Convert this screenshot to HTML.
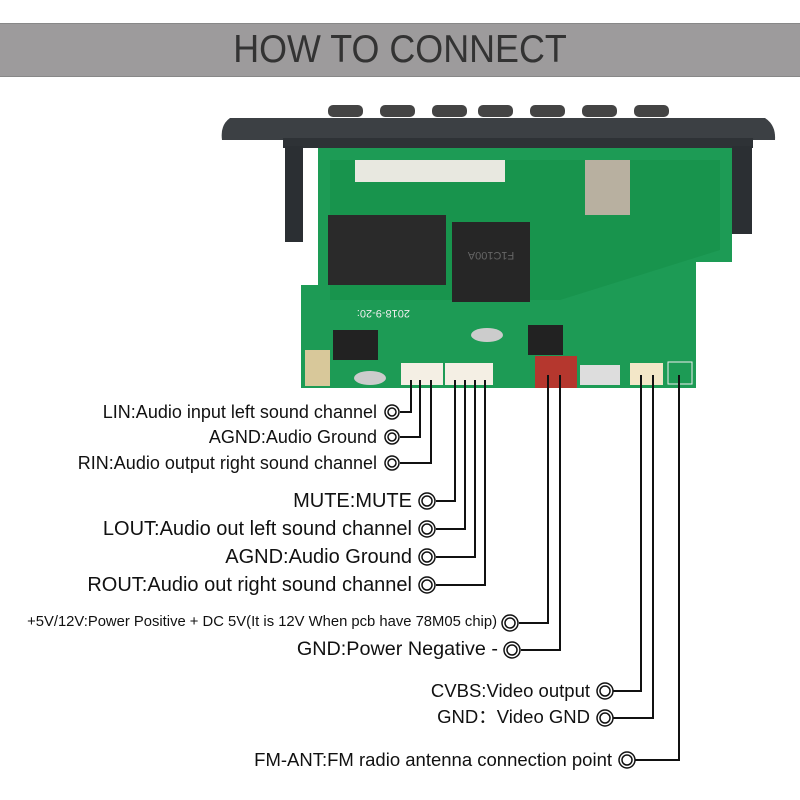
<!DOCTYPE html>
<html><head><style>
body{margin:0;width:800px;height:800px;background:#fff;overflow:hidden;position:relative;font-family:"Liberation Sans",sans-serif}
.bar{position:absolute;left:0;top:23px;width:800px;height:52px;background:#9d9b9c;border-top:1px solid #888;border-bottom:1px solid #888}
.bar div{position:absolute;left:0;width:800px;top:4px;text-align:center;font-size:39px;color:#333;transform:scaleX(0.92)}
.t{position:absolute;color:#111;white-space:nowrap;text-align:right;line-height:1}
</style></head><body>
<div class="bar"><div>HOW TO CONNECT</div></div>
<svg width="800" height="800" style="position:absolute;left:0;top:0">
<g fill="#444">
<rect x="328" y="105" width="35" height="12" rx="5"/><rect x="380" y="105" width="35" height="12" rx="5"/><rect x="432" y="105" width="35" height="12" rx="5"/><rect x="478" y="105" width="35" height="12" rx="5"/><rect x="530" y="105" width="35" height="12" rx="5"/><rect x="582" y="105" width="35" height="12" rx="5"/><rect x="634" y="105" width="35" height="12" rx="5"/>
</g>
<path d="M230 118 L765 118 Q776 125 775 140 L222 140 Q220 125 230 118Z" fill="#3c4044"/>
<rect x="283" y="138" width="470" height="10" fill="#2e3236"/>
<rect x="285" y="146" width="18" height="96" fill="#2b2f33"/>
<rect x="732" y="146" width="20" height="88" fill="#2b2f33"/>
<path d="M318 148 L732 148 L732 262 L696 262 L696 388 L301 388 L301 285 L318 285Z" fill="#1d9b55"/>
<path d="M330 160 L720 160 L720 250 L560 300 L330 300Z" fill="#169048" opacity="0.6"/>
<rect x="355" y="160" width="150" height="22" fill="#e8e8e0"/>
<rect x="585" y="160" width="45" height="55" fill="#b8b0a0"/>
<rect x="328" y="215" width="118" height="70" fill="#2a2a2a"/>
<rect x="452" y="222" width="78" height="80" fill="#262626"/>
<text x="491" y="258" font-size="11" fill="#666" text-anchor="middle" font-family="Liberation Sans" transform="rotate(180 491 255)">F1C100A</text>
<rect x="528" y="325" width="35" height="30" fill="#222"/>
<rect x="333" y="330" width="45" height="30" fill="#222"/>
<rect x="305" y="350" width="25" height="36" fill="#d8c89a"/>
<ellipse cx="487" cy="335" rx="16" ry="7" fill="#ccc"/>
<ellipse cx="370" cy="378" rx="16" ry="7" fill="#ccc"/>
<text x="430" y="300" font-size="11" fill="#eee" font-family="Liberation Sans" transform="rotate(180 420 305)">2018-9-20:</text>
<rect x="401" y="363" width="42" height="22" fill="#f4efe4"/>
<rect x="445" y="363" width="48" height="22" fill="#f4efe4"/>
<rect x="535" y="356" width="42" height="32" fill="#b5372e"/>
<rect x="580" y="365" width="40" height="20" fill="#ddd"/>
<rect x="630" y="363" width="33" height="22" fill="#f3e7c8"/>
<rect x="668" y="362" width="24" height="22" fill="#1d9b55" stroke="#eee"/>
<g fill="none" stroke="#111" stroke-width="2">
<path d="M411 380 V412 H400"/><path d="M420 380 V437 H400"/><path d="M431 380 V463 H400"/>
<path d="M455 380 V501 H436"/><path d="M465 380 V529 H436"/><path d="M475 380 V557 H436"/><path d="M485 380 V585 H436"/>
<path d="M548 375 V623 H519"/><path d="M560 375 V650 H521"/>
<path d="M641 375 V691 H613"/><path d="M653 375 V718 H613"/><path d="M679 375 V760 H635"/>
</g>
<g fill="#fff" stroke="#111" stroke-width="1.5">
<circle cx="392" cy="412" r="7"/><circle cx="392" cy="412" r="4"/>
<circle cx="392" cy="437" r="7"/><circle cx="392" cy="437" r="4"/>
<circle cx="392" cy="463" r="7"/><circle cx="392" cy="463" r="4"/>
<circle cx="427" cy="501" r="8"/><circle cx="427" cy="501" r="5"/>
<circle cx="427" cy="529" r="8"/><circle cx="427" cy="529" r="5"/>
<circle cx="427" cy="557" r="8"/><circle cx="427" cy="557" r="5"/>
<circle cx="427" cy="585" r="8"/><circle cx="427" cy="585" r="5"/>
<circle cx="510" cy="623" r="8"/><circle cx="510" cy="623" r="5"/>
<circle cx="512" cy="650" r="8"/><circle cx="512" cy="650" r="5"/>
<circle cx="605" cy="691" r="8"/><circle cx="605" cy="691" r="5"/>
<circle cx="605" cy="718" r="8"/><circle cx="605" cy="718" r="5"/>
<circle cx="627" cy="760" r="8"/><circle cx="627" cy="760" r="5"/>
</g>
</svg>
<div class="t" style="right:423px;top:403px;font-size:18px">LIN:Audio input left sound channel</div>
<div class="t" style="right:423px;top:428px;font-size:18px">AGND:Audio Ground</div>
<div class="t" style="right:423px;top:454px;font-size:18px">RIN:Audio output right sound channel</div>
<div class="t" style="right:388px;top:491px;font-size:20px">MUTE:MUTE</div>
<div class="t" style="right:388px;top:519px;font-size:20px">LOUT:Audio out left sound channel</div>
<div class="t" style="right:388px;top:547px;font-size:20px">AGND:Audio Ground</div>
<div class="t" style="right:388px;top:575px;font-size:20px">ROUT:Audio out right sound channel</div>
<div class="t" style="right:303px;top:615px;font-size:14.8px">+5V/12V:Power Positive + DC 5V(It is 12V When pcb have 78M05 chip)</div>
<div class="t" style="right:302px;top:640px;font-size:19.8px">GND:Power Negative -</div>
<div class="t" style="right:210px;top:682px;font-size:18.5px">CVBS:Video output</div>
<div class="t" style="right:210px;top:708px;font-size:18.5px">GND：Video GND</div>
<div class="t" style="right:188px;top:751px;font-size:18.5px">FM-ANT:FM radio antenna connection point</div>
</body></html>
